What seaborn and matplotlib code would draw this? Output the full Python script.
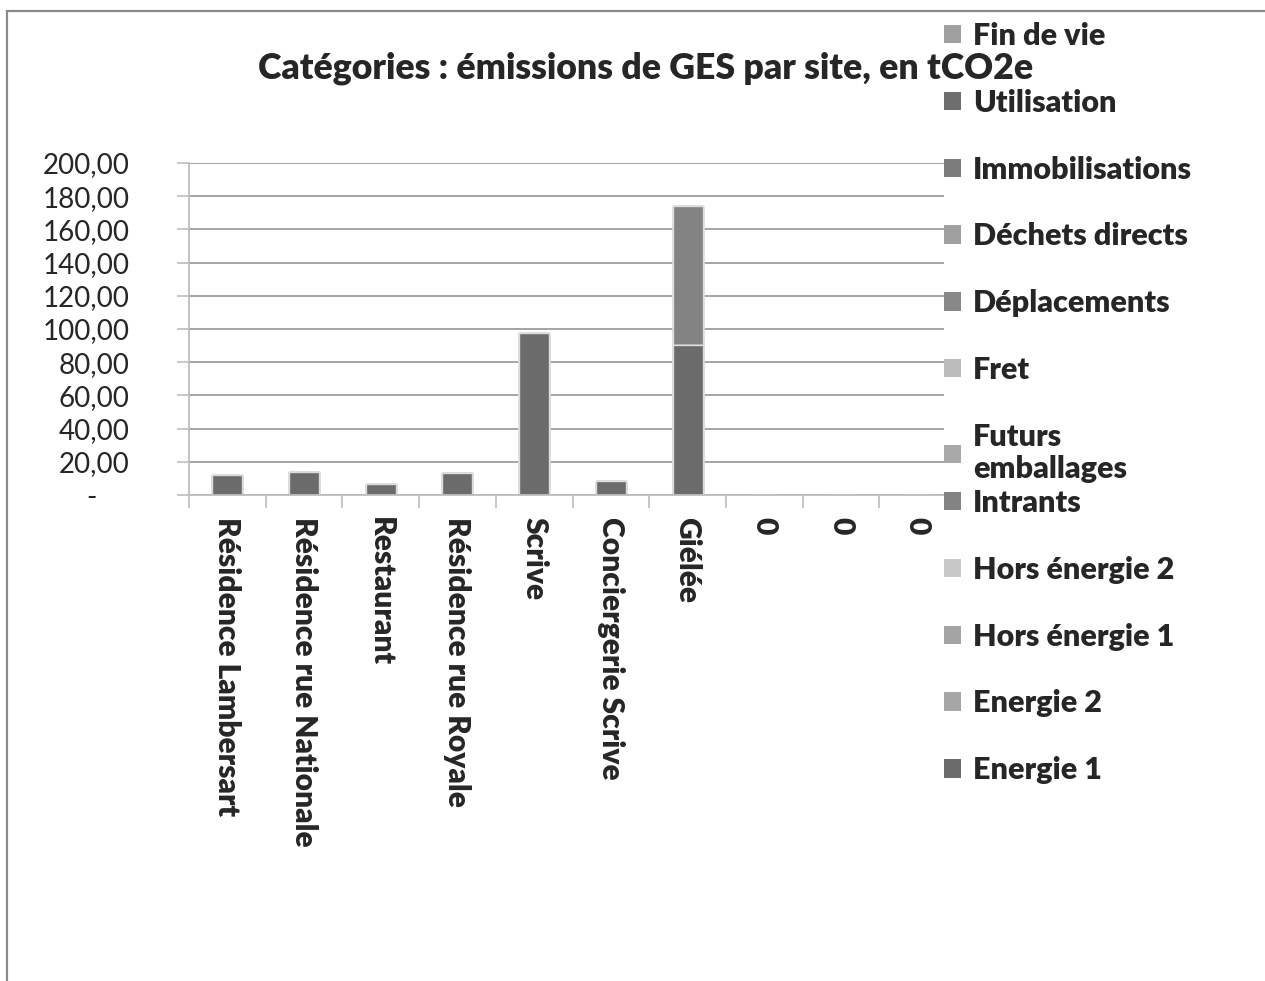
import matplotlib
matplotlib.use("Agg")
import numpy as np
import pandas as pd
import seaborn as sns
import matplotlib.pyplot as plt
from matplotlib.patches import Patch, Rectangle
from matplotlib.ticker import FuncFormatter, FixedLocator

# ---------------- data ----------------
sites = ["Résidence Lambersart", "Résidence rue Nationale", "Restaurant",
         "Résidence rue Royale", "Scrive", "Conciergerie Scrive", "Giélée",
         "0", "0", "0"]

# stacking order, bottom -> top
categories = ["Energie 1", "Energie 2", "Hors énergie 1", "Hors énergie 2",
              "Intrants", "Futurs emballages", "Fret", "Déplacements",
              "Déchets directs", "Immobilisations", "Utilisation", "Fin de vie"]

energie_1 = [12.0, 13.6, 6.8, 13.0, 97.4, 8.4, 90.5, 0, 0, 0]
energie_2 = [0, 0, 0, 0, 0, 0, 0, 0, 0, 0]
hors_energie_1 = [0, 0, 0, 0, 0, 0, 0, 0, 0, 0]
hors_energie_2 = [0, 0, 0, 0, 0, 0, 0, 0, 0, 0]
intrants = [0, 0, 0, 0, 0, 0, 83.8, 0, 0, 0]
futurs_emballages = [0, 0, 0, 0, 0, 0, 0, 0, 0, 0]
fret = [0, 0, 0, 0, 0, 0, 0, 0, 0, 0]
deplacements = [0, 0, 0, 0, 0, 0, 0, 0, 0, 0]
dechets_directs = [0, 0, 0, 0, 0, 0, 0, 0, 0, 0]
immobilisations = [0, 0, 0, 0, 0, 0, 0, 0, 0, 0]
utilisation = [0, 0, 0, 0, 0, 0, 0, 0, 0, 0]
fin_de_vie = [0, 0, 0, 0, 0, 0, 0, 0, 0, 0]

series_values = [energie_1, energie_2, hors_energie_1, hors_energie_2, intrants,
                 futurs_emballages, fret, deplacements, dechets_directs,
                 immobilisations, utilisation, fin_de_vie]

colors = ["#6b6b6b", "#a6a6a6", "#a4a4a4", "#c8c8c8", "#838383", "#a8a8a8",
          "#bcbcbc", "#888888", "#a0a0a0", "#7c7c7c", "#6e6e6e", "#a0a0a0"]

yticks = [0, 20, 40, 60, 80, 100, 120, 140, 160, 180, 200]
title = "Catégories : émissions de GES par site, en tCO2e"

# ---------------- style ----------------
sns.set_style("white")
plt.rcParams["font.family"] = ["Lato", "DejaVu Sans"]
BOLD = "heavy"

W, H = 1265, 981
fig = plt.figure(figsize=(W / 100, H / 100), dpi=100)
ax = fig.add_axes([189 / W, (H - 495) / H, (956 - 189) / W, (495 - 163) / H])

pos = list(range(len(sites)))
df = pd.DataFrame({name: vals for name, vals in zip(categories, series_values)})
df["pos"] = pos
cum = df[categories].cumsum(axis=1)

# draw cumulative totals from top layer down so each lower layer covers the upper
for i in range(len(categories) - 1, -1, -1):
    sns.barplot(x=df["pos"], y=cum[categories[i]], color=colors[i], width=0.39,
                edgecolor="#dcdcdc", linewidth=1.0, errorbar=None, ax=ax,
                saturation=1)

ax.set_xlim(-0.5, len(sites) - 0.5)
ax.set_ylim(0, 200)
ax.set_xlabel("")
ax.set_ylabel("")
ax.set_axisbelow(True)

ax.yaxis.set_major_locator(FixedLocator(yticks))
ax.yaxis.set_major_formatter(FuncFormatter(
    lambda v, p: "-" + "\u2007" * 2 if v == 0 else f"{v:.2f}".replace(".", ",")))
ax.grid(axis="y", color="#8c8c8c", linewidth=1.1)
ax.grid(axis="x", visible=False)

ax.set_xticks(pos)
ax.set_xticklabels(sites, rotation=270, fontweight=BOLD, fontsize=21.6,
                   va="top", ha="center")
ax.set_xticks([p + 0.5 for p in pos[:-1]] + [-0.5], minor=True)
ax.tick_params(axis="x", which="major", length=0, pad=16)
ax.tick_params(axis="x", which="minor", length=9, width=1.2, color="#bdbdbd",
               direction="out", bottom=True)
ax.tick_params(axis="y", which="major", length=9, width=1.2, color="#bdbdbd",
               direction="out", left=True, labelsize=20, pad=34)

for s in ["top", "right"]:
    ax.spines[s].set_visible(False)
for s in ["left", "bottom"]:
    ax.spines[s].set_color("#bdbdbd")
    ax.spines[s].set_linewidth(1.3)

# legend (two blocks, reversed order: top = Fin de vie)
def handles_for(names):
    return [Patch(facecolor=colors[categories.index(n)], edgecolor="none",
                  label=("Futurs\nemballages" if n == "Futurs emballages" else n))
            for n in names]

block_a = ["Fin de vie", "Utilisation", "Immobilisations", "Déchets directs",
           "Déplacements", "Fret", "Futurs emballages"]
block_b = ["Intrants", "Hors énergie 2", "Hors énergie 1", "Energie 2", "Energie 1"]

common = dict(facecolor="white", edgecolor="none", framealpha=1,
              prop={"weight": BOLD, "size": 22}, handlelength=0.55,
              handleheight=0.55, handletextpad=0.4, borderpad=0.0,
              borderaxespad=0.0, labelspacing=1.27, fancybox=False)

leg_a = fig.legend(handles=handles_for(block_a), loc="upper left",
                   bbox_to_anchor=(944 / W, 1 - 22 / H), frameon=True, **common)
leg_b = fig.legend(handles=handles_for(block_b), loc="upper left",
                   bbox_to_anchor=(944 / W, 1 - 489 / H), frameon=False, **common)
leg_a.set_zorder(3)
leg_b.set_zorder(4)

# title (drawn above the legend)
fig.text(646 / W, 1 - 68 / H, title, ha="center", va="center",
         fontsize=25.7, fontweight=BOLD, zorder=10)

# outer frame (cropped chart border)
fig.add_artist(Rectangle((7 / W, -0.5), 2.0, 1 - 11 / H + 0.5,
                         transform=fig.transFigure, fill=False,
                         edgecolor="#8a8a8a", linewidth=1.6))

fig.savefig("out.png", dpi=100)
